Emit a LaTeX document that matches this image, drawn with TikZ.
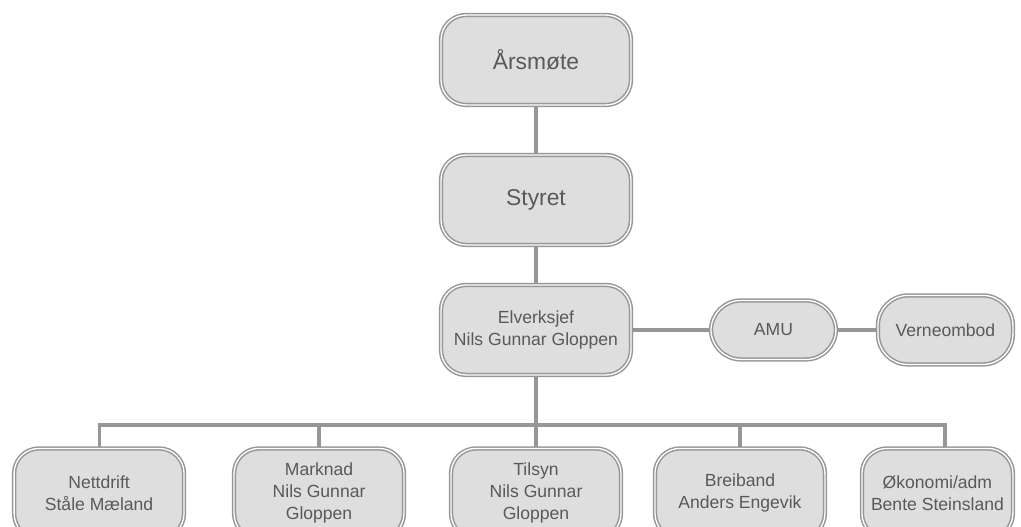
\documentclass[tikz,border=0pt]{standalone}
\usepackage{fontspec}
\setmainfont{Liberation Sans}
\usetikzlibrary{positioning}
\pgfdeclarelayer{background}
\pgfsetlayers{background,main}
\definecolor{boxfill}{HTML}{DEDEDE}
\definecolor{boxline}{HTML}{969696}
\definecolor{boxtext}{HTML}{595959}
\tikzset{
    unit/.style={draw=boxline, line width=0.85pt, double=white, double distance=0.75pt,
        fill=boxfill, rounded corners=0.5cm, text=boxtext, align=center,
        inner sep=0pt, outer sep=0pt, minimum height=1.8cm,
        font=\fontsize{10}{12.5}\selectfont},
    board/.style={unit, minimum width=3.8cm, font=\fontsize{13}{15}\selectfont},
    side/.style={unit, rounded corners=0.6cm},
    leaf/.style={unit, minimum width=3.4cm},
    link/.style={draw=boxline, line width=1.8pt},
}

\begin{document}
\begin{tikzpicture}[x=0.02cm, y=-0.02cm]
    \useasboundingbox (0,0) rectangle (1021,527);
    \clip (0,0) rectangle (1021,527);

    \node[board] (aars) at (536,60) {Årsmøte};
    \node[board, below=1cm of aars] (styret) {Styret};
    \node[board, below=0.8cm of styret, font=\fontsize{10}{12.5}\selectfont] (chief) {Elverksjef\\Nils Gunnar Gloppen};

    \node[side, right=1.6cm of chief, minimum width=2.5cm, minimum height=1.18cm] (amu) {AMU};
    \node[side, right=0.84cm of amu, minimum width=2.7cm, minimum height=1.38cm] (verne) {Verneombod};

    \node[leaf, below=1.47cm of chief] (tilsyn) {Tilsyn\\Nils Gunnar\\Gloppen};
    \node[leaf, left=0.94cm of tilsyn] (marknad) {Marknad\\Nils Gunnar\\Gloppen};
    \node[leaf, left=1cm of marknad] (nett) {Nettdrift\\Ståle Mæland};
    \node[leaf, right=0.68cm of tilsyn] (breib) {Breiband\\Anders Engevik};
    \node[leaf, right=0.74cm of breib, minimum width=3.02cm] (okon) {Økonomi/adm\\Bente Steinsland};

    \coordinate[below=1cm of chief] (bus);

    \begin{pgfonlayer}{background}
        \draw[link] (aars) -- (styret);
        \draw[link] (styret) -- (chief);
        \draw[link] (chief) -- (amu);
        \draw[link] (amu) -- (verne);
        \draw[link] (chief) -- (bus);
        \draw[link] (nett.north) |- (bus) -| ([xshift=0.15cm]okon.north);
        \foreach \u in {marknad, tilsyn, breib}
            \draw[link] (\u.north) -- (\u.north |- bus);
    \end{pgfonlayer}
\end{tikzpicture}
\end{document}
